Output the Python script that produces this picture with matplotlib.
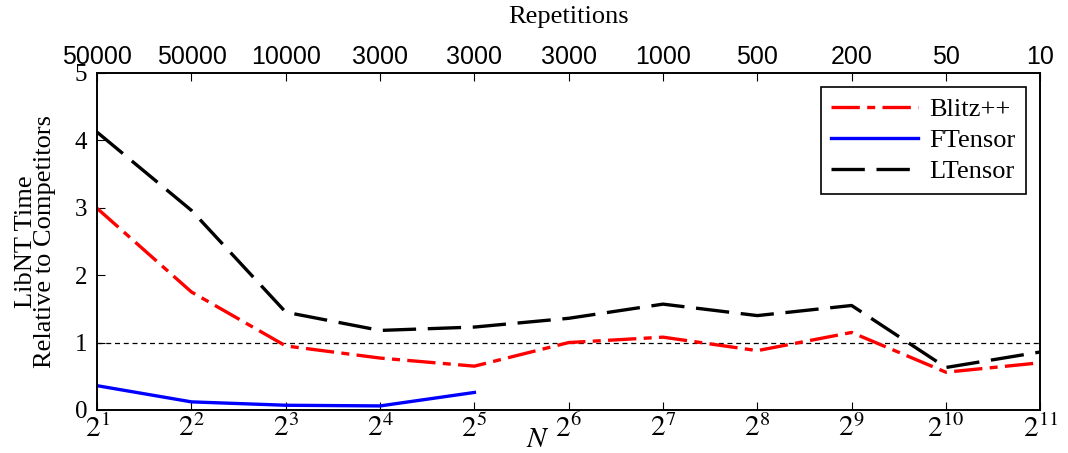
import numpy as np
import matplotlib.pyplot as plt

plt.rcParams['font.family'] = ['Liberation Serif', 'DejaVu Serif']
plt.rcParams['mathtext.fontset'] = 'stix'

# data
N = [2, 4, 8, 16, 32, 64, 128, 256, 512, 1024, 2048]
repetitions = ['50000', '50000', '10000', '3000', '3000', '3000',
               '1000', '500', '200', '50', '10']
blitz = [2.99, 1.75, 0.95, 0.77, 0.65, 1.0, 1.08, 0.88, 1.15, 0.56, 0.70]
ftensor_N = [2, 4, 8, 16, 32]
ftensor = [0.36, 0.12, 0.07, 0.06, 0.26]
ltensor = [4.12, 2.96, 1.45, 1.18, 1.23, 1.36, 1.57, 1.40, 1.55, 0.63, 0.86]

fig = plt.figure(figsize=(10.68, 4.53), dpi=100)
ax1 = fig.add_axes([0.091, 0.095, 0.883, 0.744])

ax1.axhline(1, color='black', lw=0.9, ls=(0, (4, 3)))
ax1.plot(N, blitz, color='red', lw=2.4, ls=(0, (8.5, 2.2, 2.4, 2.2)),
         label='Blitz++')
ax1.plot(ftensor_N, ftensor, color='blue', lw=2.4, ls='-', label='FTensor')
ax1.plot(N, ltensor, color='black', lw=2.4, ls=(0, (10, 3.5)),
         label='LTensor')

ax1.set_xscale('log', base=2)
ax1.set_xlim(2, 2048)
ax1.set_ylim(0, 5)
ax1.set_xticks(N)
ax1.set_xticklabels([f'$2^{{{int(np.log2(n))}}}$' for n in N])
ax1.xaxis.set_minor_locator(plt.NullLocator())
ax1.set_yticks([0, 1, 2, 3, 4, 5])
ax1.tick_params(axis='both', direction='in', length=6, labelsize=18)
ax1.tick_params(axis='y', pad=7)
ax1.tick_params(axis='x', labelsize=21, pad=3)

ax1.set_ylabel('LibNT Time\nRelative to Competitors', fontsize=19,
               labelpad=14, linespacing=0.8)
ax1.text(0.467, -0.089, '$N$', transform=ax1.transAxes, fontsize=21,
         ha='center', va='center')

ax2 = ax1.twiny()
ax2.set_xscale('log', base=2)
ax2.set_xlim(ax1.get_xlim())
ax2.set_xticks(N)
ax2.set_xticklabels(repetitions, fontsize=18, family='Liberation Sans')
ax2.xaxis.set_minor_locator(plt.NullLocator())
ax2.tick_params(axis='x', direction='in', length=6, pad=3)
ax2.set_xlabel('Repetitions', fontsize=19, labelpad=16)

for a in (ax1, ax2):
    for s in a.spines.values():
        s.set_linewidth(1.2)

leg = ax1.legend(loc='upper right', fontsize=19, fancybox=False,
                 edgecolor='black', framealpha=1, handlelength=3.3,
                 handletextpad=0.4, borderaxespad=0.55, labelspacing=0.28,
                 borderpad=0.4)
leg.get_frame().set_linewidth(1.2)

fig.savefig('out.png', dpi=100)
